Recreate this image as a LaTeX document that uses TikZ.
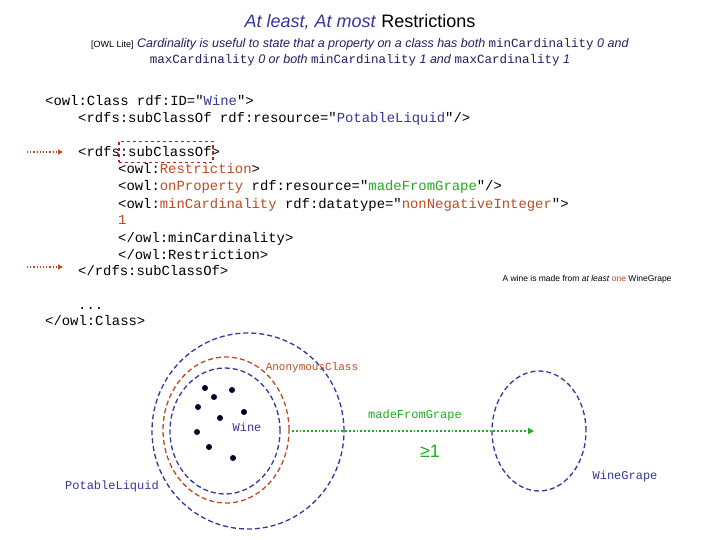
\documentclass[tikz,border=0pt]{standalone}
\usepackage{fontspec}
\setmainfont{Liberation Sans}
\newfontfamily\codefont{Liberation Mono}
\usetikzlibrary{arrows.meta}
\definecolor{cblue}{HTML}{3535A0}
\definecolor{cred}{HTML}{C04A20}
\definecolor{cgreen}{HTML}{22AA22}
\definecolor{dred}{HTML}{B02020}
\tikzset{
 code/.style={anchor=base west,inner sep=0,font=\codefont\fontsize{13.9}{14}\selectfont},
 setc/.style={draw=cblue,dashed,dash pattern=on 5pt off 3pt,line width=1.3pt},
 dot/.style={circle,fill=black!85!blue,inner sep=0,minimum size=6pt},
 ptr/.style={draw=cred,dotted,line width=1.2pt,-{Triangle[length=5pt,width=5pt]}},
}
\begin{document}
\begin{tikzpicture}[x=1pt,y=-1pt]
\useasboundingbox (0,0) rectangle (720,540);
\node[font=\fontsize{18}{20}\selectfont,color=cblue] (t) at (360,22) {\textit{At least, At most} \textcolor{black}{Restrictions}};
\node[font=\fontsize{12.5}{16}\selectfont,align=center,color=cblue!60!black] (sub) at (360,52) {\textcolor{black}{\fontsize{9}{10}\selectfont[OWL Lite]} \textit{Cardinality is useful to state that a property on a class has both} {\codefont minCardinality} \textit{0 and}\\ {\codefont maxCardinality} \textit{0 or both} {\codefont minCardinality} \textit{1 and} {\codefont maxCardinality} \textit{1}};
\node[code] (l1) at (45,106) {<owl:Class rdf:ID="\textcolor{cblue}{Wine}">};
\node[code] (l2) at (78,123) {<rdfs:subClassOf rdf:resource="\textcolor{cblue}{PotableLiquid}"/>};
\node[code] (l3) at (78,157) {<rdfs:subClassOf>};
\node[code] (l4) at (118,174) {<owl:\textcolor{cred}{Restriction}>};
\node[code] (l5) at (118,191) {<owl:\textcolor{cred}{onProperty} rdf:resource="\textcolor{cgreen}{madeFromGrape}"/>};
\node[code] (l6) at (118,208) {<owl:\textcolor{cred}{minCardinality} rdf:datatype="\textcolor{cred}{nonNegativeInteger}">};
\node[code,color=cred] (l7) at (118,225) {1};
\node[code] (l8) at (118,242) {</owl:minCardinality>};
\node[code] (l9) at (118,259) {</owl:Restriction>};
\node[code] (l10) at (78,275) {</rdfs:subClassOf>};
\node[code] (l11) at (78,309) {...};
\node[code] (l12) at (45,325) {</owl:Class>};
\node[draw=dred,dashed,line width=1.5pt,minimum width=94pt,minimum height=21pt,inner sep=0] (box) at (166,152) {};
\coordinate (a1s) at (27,152); \coordinate (a1e) at (63,152);
\coordinate (a2s) at (27,267); \coordinate (a2e) at (63,267);
\draw[ptr] (a1s) -- (a1e);
\draw[ptr] (a2s) -- (a2e);
\node[font=\fontsize{8.5}{10}\selectfont,anchor=east] (note) at (675,279) {A wine is made from \textit{at least} \textcolor{cred}{one} WineGrape};
% sets
\draw[setc] (248,431) ellipse [x radius=96pt,y radius=98pt];
\draw[setc,draw=cred] (226,430) ellipse [x radius=63pt,y radius=73pt];
\draw[setc] (225,431) ellipse [x radius=55pt,y radius=63pt];
\draw[setc] (539,431) ellipse [x radius=47pt,y radius=60pt];
\foreach \p [count=\i] in {(205,388),(232,390),(214,397),(198,407),(244,412),(220,418),(197,432),(209,447),(233,458)} \node[dot] (d\i) at \p {};
\coordinate (ms) at (292,431); \coordinate (me) at (534,431);
\draw[draw=cgreen,dotted,line width=1.8pt,-{Triangle[length=6pt,width=6pt]}] (ms) -- (me);
\node[code,anchor=center,color=cgreen,font=\codefont\fontsize{12}{14}\selectfont] (mfg) at (415,415) {madeFromGrape};
\node[color=cgreen,font=\fontsize{18}{20}\selectfont] (ge) at (430,451) {≥1};
\node[code,anchor=center,color=cblue,font=\codefont\fontsize{12}{14}\selectfont] (wl) at (247,427) {Wine};
\node[code,anchor=center,color=cred,font=\codefont\fontsize{11}{14}\selectfont] (an) at (312,368) {AnonymousClass};
\node[code,anchor=center,color=cblue,font=\codefont\fontsize{12}{14}\selectfont] (plabel) at (112,486) {PotableLiquid};
\node[code,anchor=center,color=cblue,font=\codefont\fontsize{12}{14}\selectfont] (wg) at (625,476) {WineGrape};
\end{tikzpicture}
\end{document}
